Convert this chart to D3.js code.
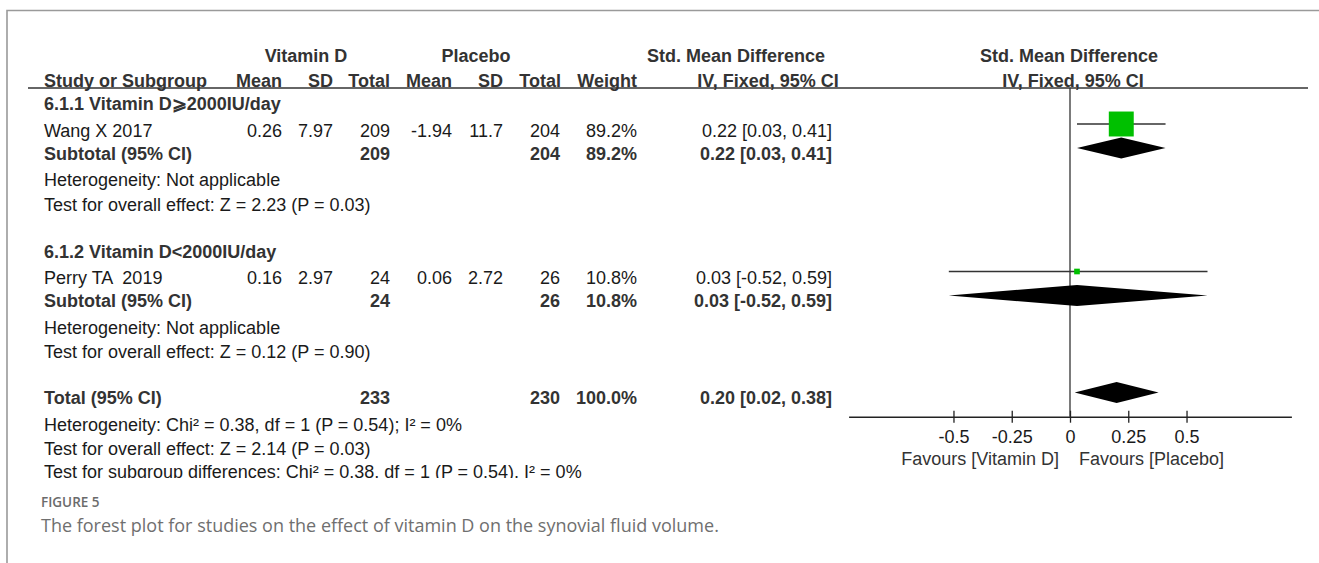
<html>
    <head>
        <meta charset="UTF-8">
        <title>Figure 5 forest plot</title>

        <script src="https://d3js.org/d3.v7.min.js"></script>

        <style>
            body { margin: 0; background: #fff; }
            text {
                font-family: "Liberation Sans", Arial, sans-serif;
                font-size: 18px;
                fill: #1a1a1a;
                white-space: pre;
            }
            .b { font-weight: bold; fill: #333; }
            .cap { font-family: "Open Sans", sans-serif; }
        </style>
    </head>

    <body>
        <svg id='svg1' height='563' width='1319'></svg>

        <script>
            // ---- data ----
            const groupTitles = ['6.1.1 Vitamin D\u2A7E2000IU/day', '6.1.2 Vitamin D<2000IU/day'];
            const studyNames = ['Wang X 2017', 'Perry TA  2019'];
            const studyGroup = [0, 1];
            const vdMean = [0.26, 0.16];
            const vdSD = [7.97, 2.97];
            const vdTotal = [209, 24];
            const pbMean = [-1.94, 0.06];
            const pbSD = [11.7, 2.72];
            const pbTotal = [204, 26];
            const weight = [89.2, 10.8];
            const smd = [0.22, 0.03];
            const ciLow = [0.03, -0.52];
            const ciHigh = [0.41, 0.59];

            const subVd = [209, 24];
            const subPb = [204, 26];
            const subWeight = [89.2, 10.8];
            const subSmd = [0.22, 0.03];
            const subLow = [0.03, -0.52];
            const subHigh = [0.41, 0.59];
            const subHet = ['Heterogeneity: Not applicable', 'Heterogeneity: Not applicable'];
            const subTest = ['Test for overall effect: Z = 2.23 (P = 0.03)', 'Test for overall effect: Z = 0.12 (P = 0.90)'];

            const totalCounts = [233, 230];
            const totalWeight = 100.0;
            const totalEffect = [0.20, 0.02, 0.38];
            const totalNotes = [
                'Heterogeneity: Chi\u00B2 = 0.38, df = 1 (P = 0.54); I\u00B2 = 0%',
                'Test for overall effect: Z = 2.14 (P = 0.03)',
                'Test for subgroup differences: Chi\u00B2 = 0.38, df = 1 (P = 0.54), I\u00B2 = 0%'
            ];

            const xTicks = [-0.5, -0.25, 0, 0.25, 0.5];
            const favours = ['Favours [Vitamin D]', 'Favours [Placebo]'];

            // ---- layout ----
            const svg = d3.select('svg#svg1');
            const cols = {vdMean: 282, vdSD: 333, vdTotal: 390, pbMean: 452, pbSD: 503, pbTotal: 560, weight: 637, ci: 832};
            const groupY = [110, 257.5];
            const totalY = 404;
            const axisY = 416.7;

            const x = d3.scaleLinear().domain([-0.95, 0.95]).range([848.6, 1291.4]);
            const boxSize = d3.scaleLinear().domain([0, 100]).range([3, 27.6]);
            const f2 = v => v.toFixed(2);
            const ciText = (e, l, h) => `${f2(e)} [${f2(l)}, ${f2(h)}]`;
            const pct = v => v.toFixed(1) + '%';

            // frame round the figure
            svg.append('path')
                .attr('d', 'M7,600 V10.5 H1330')
                .attr('fill', 'none')
                .attr('stroke', '#9a9a9a')
                .attr('stroke-width', 1.6);

            svg.append('clipPath').attr('id', 'cut')
                .append('rect').attr('x', 0).attr('y', 0).attr('width', 1319).attr('height', 478);
            const chart = svg.append('g').attr('clip-path', 'url(#cut)');

            function txt(g, xPos, yPos, s, anchor, cls) {
                return g.append('text')
                    .attr('x', xPos).attr('y', yPos)
                    .attr('text-anchor', anchor || 'start')
                    .attr('class', cls || null)
                    .text(s);
            }

            // header
            txt(chart, 306, 62, 'Vitamin D', 'middle', 'b');
            txt(chart, 476, 62, 'Placebo', 'middle', 'b');
            txt(chart, 736, 62, 'Std. Mean Difference', 'middle', 'b');
            txt(chart, 1069, 62, 'Std. Mean Difference', 'middle', 'b');
            txt(chart, 44, 86.5, 'Study or Subgroup', 'start', 'b');
            txt(chart, cols.vdMean, 86.5, 'Mean', 'end', 'b');
            txt(chart, cols.vdSD, 86.5, 'SD', 'end', 'b');
            txt(chart, cols.vdTotal, 86.5, 'Total', 'end', 'b');
            txt(chart, cols.pbMean, 86.5, 'Mean', 'end', 'b');
            txt(chart, cols.pbSD, 86.5, 'SD', 'end', 'b');
            txt(chart, cols.pbTotal + 1, 86.5, 'Total', 'end', 'b');
            txt(chart, cols.weight, 86.5, 'Weight', 'end', 'b');
            txt(chart, 768, 86.5, 'IV, Fixed, 95% CI', 'middle', 'b');
            txt(chart, 1073, 86.5, 'IV, Fixed, 95% CI', 'middle', 'b');

            chart.append('line')
                .attr('x1', 28).attr('x2', 1308)
                .attr('y1', 88).attr('y2', 88)
                .attr('stroke', '#333').attr('stroke-width', 1.4);

            // zero line
            chart.append('line')
                .attr('x1', x(0)).attr('x2', x(0))
                .attr('y1', 88).attr('y2', axisY)
                .attr('stroke', '#333').attr('stroke-width', 1.3);

            // subgroup blocks
            groupTitles.forEach((t, i) => {
                const y0 = groupY[i];
                txt(chart, 44, y0, t, 'start', 'b');
                txt(chart, 44, y0 + 49.5, 'Subtotal (95% CI)', 'start', 'b');
                txt(chart, cols.vdTotal, y0 + 49.5, subVd[i], 'end', 'b');
                txt(chart, cols.pbTotal, y0 + 49.5, subPb[i], 'end', 'b');
                txt(chart, cols.weight, y0 + 49.5, pct(subWeight[i]), 'end', 'b');
                txt(chart, cols.ci, y0 + 49.5, ciText(subSmd[i], subLow[i], subHigh[i]), 'end', 'b');
                txt(chart, 44, y0 + 76, subHet[i]);
                txt(chart, 44, y0 + 100.5, subTest[i]);
            });

            // study rows
            studyNames.forEach((name, i) => {
                const yb = groupY[studyGroup[i]] + 26.5;
                txt(chart, 44, yb, name);
                txt(chart, cols.vdMean, yb, String(vdMean[i]), 'end');
                txt(chart, cols.vdSD, yb, String(vdSD[i]), 'end');
                txt(chart, cols.vdTotal, yb, vdTotal[i], 'end');
                txt(chart, cols.pbMean, yb, String(pbMean[i]), 'end');
                txt(chart, cols.pbSD, yb, String(pbSD[i]), 'end');
                txt(chart, cols.pbTotal, yb, pbTotal[i], 'end');
                txt(chart, cols.weight, yb, pct(weight[i]), 'end');
                txt(chart, cols.ci, yb, ciText(smd[i], ciLow[i], ciHigh[i]), 'end');
            });

            // overall
            txt(chart, 44, totalY, 'Total (95% CI)', 'start', 'b');
            txt(chart, cols.vdTotal, totalY, totalCounts[0], 'end', 'b');
            txt(chart, cols.pbTotal, totalY, totalCounts[1], 'end', 'b');
            txt(chart, cols.weight, totalY, pct(totalWeight), 'end', 'b');
            txt(chart, cols.ci, totalY, ciText(...totalEffect), 'end', 'b');
            totalNotes.forEach((t, i) => txt(chart, 44, totalY + [26.5, 50.5, 73.5][i], t));

            // study markers: CI line + weighted square
            const marks = chart.selectAll('g.study')
                .data(studyNames)
                .enter()
                .append('g')
                .attr('class', 'study')
                .attr('transform', (d, i) => `translate(0, ${groupY[studyGroup[i]] + 26.5 - 12.5})`);
            marks.append('line')
                .attr('x1', (d, i) => x(ciLow[i]))
                .attr('x2', (d, i) => x(ciHigh[i]))
                .attr('stroke', '#333').attr('stroke-width', 1.3);
            marks.append('rect')
                .attr('x', (d, i) => x(smd[i]) - boxSize(weight[i]) / 2)
                .attr('y', (d, i) => -boxSize(weight[i]) / 2)
                .attr('width', (d, i) => boxSize(weight[i]))
                .attr('height', (d, i) => boxSize(weight[i]))
                .style('fill', '#00c000');

            // diamonds for subtotals and total
            const diamond = (e, l, h, cy) =>
                `M${x(l)},${cy} L${x(e)},${cy - 10.5} L${x(h)},${cy} L${x(e)},${cy + 10.5} Z`;
            const dData = subSmd.map((e, i) => [e, subLow[i], subHigh[i], groupY[i] + 49.5 - 11.5])
                .concat([[totalEffect[0], totalEffect[1], totalEffect[2], totalY - 11.5]]);
            chart.selectAll('path.diamond')
                .data(dData)
                .enter()
                .append('path')
                .attr('class', 'diamond')
                .attr('d', d => diamond(...d))
                .style('fill', '#000');

            // axis
            const axis = d3.axisBottom(x)
                .tickValues(xTicks)
                .tickSize(6)
                .tickSizeOuter(0)
                .tickFormat(d => String(d));
            const ax = chart.append('g')
                .attr('transform', `translate(0, ${axisY})`)
                .call(axis);
            ax.attr('font-size', null).attr('font-family', null);
            ax.select('.domain').attr('stroke', '#222').attr('stroke-width', 1.5);
            ax.selectAll('.tick line').attr('y1', -6).attr('y2', 6).attr('stroke', '#222').attr('stroke-width', 1.3);
            ax.selectAll('.tick text')
                .attr('y', 26.5).attr('dy', null)
                .style('fill', '#1a1a1a');

            txt(chart, 1059, 465, favours[0], 'end').style('fill', '#333');
            txt(chart, 1079, 465, favours[1], 'start').style('fill', '#333');

            // caption
            svg.append('text').attr('class', 'cap')
                .attr('x', 41).attr('y', 507)
                .style('font-size', '13.5px').style('font-weight', 600).style('fill', '#6b6b6b')
                .text('FIGURE 5');
            svg.append('text').attr('class', 'cap')
                .attr('x', 41).attr('y', 532)
                .style('font-size', '18px').style('fill', '#6f6f6f')
                .text('The forest plot for studies on the effect of vitamin D on the synovial fluid volume.');
        </script>
    </body>
</html>
